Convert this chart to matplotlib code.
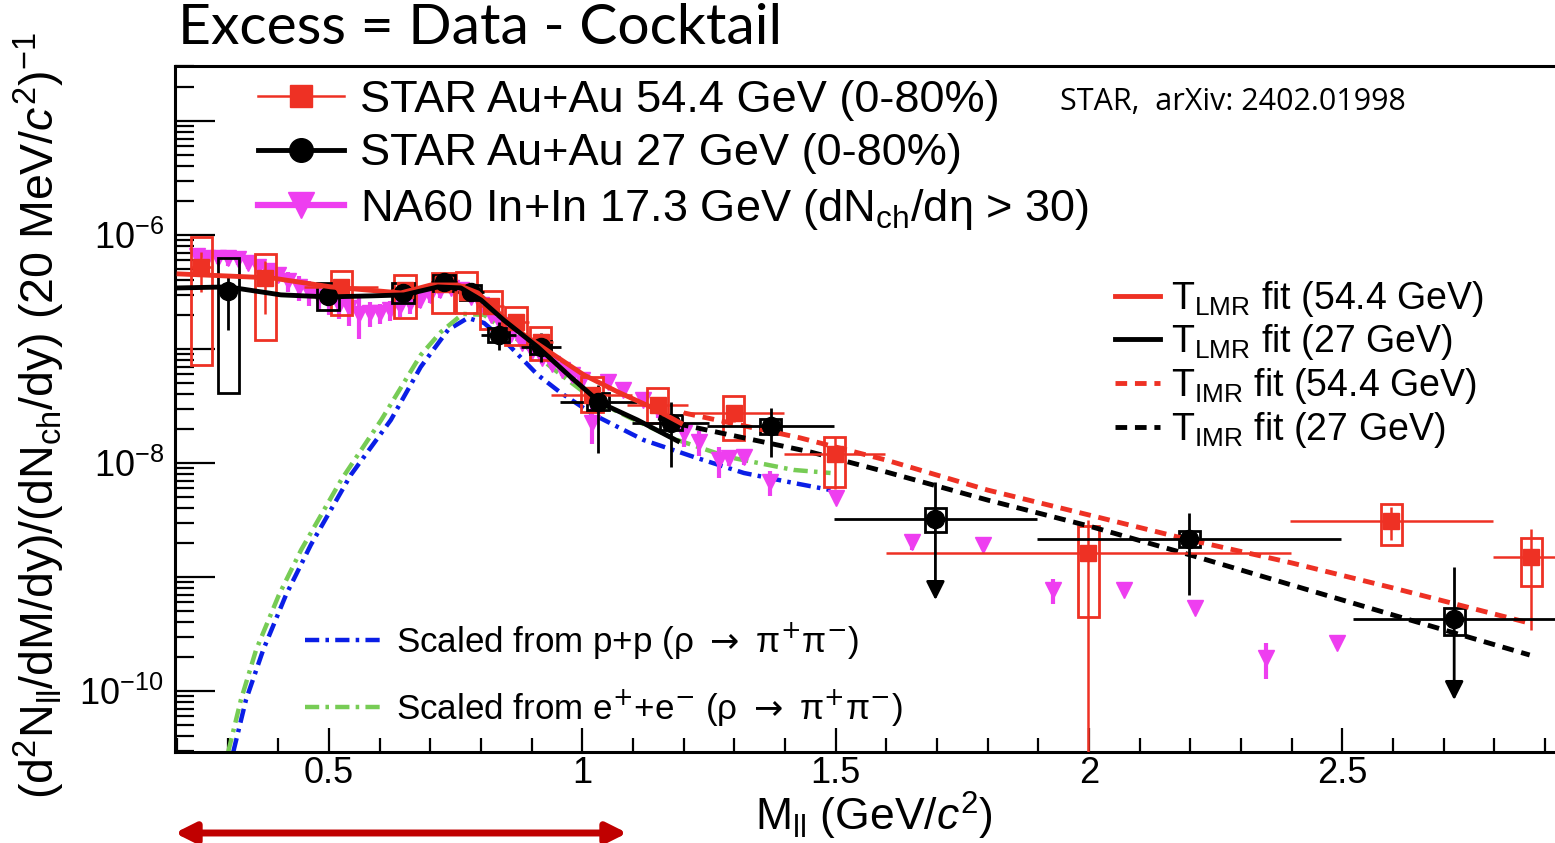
import numpy as np
import matplotlib
matplotlib.use("Agg")
import matplotlib.pyplot as plt
from matplotlib.lines import Line2D
from matplotlib.patches import Rectangle
from matplotlib.font_manager import FontProperties
from matplotlib.ticker import FixedLocator, FuncFormatter, MultipleLocator, NullFormatter

plt.rcParams['font.family'] = ['Liberation Sans', 'DejaVu Sans']
plt.rcParams['mathtext.fontset'] = 'custom'
plt.rcParams['mathtext.rm'] = 'Liberation Sans'
plt.rcParams['mathtext.it'] = 'Liberation Sans:italic'
plt.rcParams['mathtext.bf'] = 'Liberation Sans:bold'

RED = '#EE3124'
MAG = '#EE3EF0'
BLUE = '#0A1EE6'
GREEN = '#77CC55'

# ---------------- STAR Au+Au 54.4 GeV ----------------
star54_x = [0.248, 0.374, 0.524, 0.650, 0.725, 0.772, 0.820, 0.869, 0.918, 1.019, 1.149, 1.299, 1.498, 1.999, 2.597, 2.873]
star54_y = [5.24e-7, 4.20e-7, 3.50e-7, 3.30e-7, 3.70e-7, 3.16e-7, 2.40e-7, 1.73e-7, 1.15e-7, 3.95e-8, 3.20e-8, 2.75e-8, 1.20e-8, 1.62e-9, 3.10e-9, 1.50e-9]
star54_xerr = [0.02, 0.02, 0.073, 0.025, 0.025, 0.025, 0.025, 0.025, 0.025, 0.08, 0.06, 0.10, 0.10, 0.40, 0.20, 0.075]
star54_stat_hi = [7.1e-7, 5.92e-7, 4.03e-7, 3.8e-7, 4.2e-7, 3.6e-7, 2.7e-7, 1.95e-7, 1.3e-7, 4.5e-8, 3.8e-8, 3.2e-8, 1.7e-8, 3.16e-9, 4.11e-9, 2.64e-9]
star54_stat_lo = [3.16e-7, 2.03e-7, 2.98e-7, 2.8e-7, 3.2e-7, 2.8e-7, 2.1e-7, 1.5e-7, 1.0e-7, 3.4e-8, 2.7e-8, 2.3e-8, 5.9e-9, 1e-12, 2.11e-9, 3.43e-10]
star54_sys_hi = [9.59e-7, 6.81e-7, 4.83e-7, 4.46e-7, 4.64e-7, 4.73e-7, 3.23e-7, 2.33e-7, 1.56e-7, 5.68e-8, 4.55e-8, 3.87e-8, 1.69e-8, 2.80e-9, 4.36e-9, 2.20e-9]
star54_sys_lo = [7.24e-8, 1.20e-7, 1.99e-7, 1.87e-7, 2.07e-7, 2.07e-7, 1.50e-7, 1.08e-7, 8.02e-8, 2.80e-8, 2.24e-8, 1.59e-8, 6.15e-9, 4.46e-10, 1.91e-9, 8.34e-10]

# ---------------- STAR Au+Au 27 GeV ----------------
star27_x = [0.301, 0.498, 0.646, 0.727, 0.780, 0.835, 0.918, 1.031, 1.175, 1.372, 1.697, 2.198, 2.721]
star27_y = [3.23e-7, 2.92e-7, 3.10e-7, 3.87e-7, 3.16e-7, 1.33e-7, 1.04e-7, 3.43e-8, 2.24e-8, 2.11e-8, 3.23e-9, 2.15e-9, 4.28e-10]
star27_xerr = [0.02, 0.05, 0.025, 0.025, 0.025, 0.035, 0.04, 0.076, 0.076, 0.125, 0.20, 0.30, 0.20]
star27_stat_hi = [4.46e-7, 3.3e-7, 3.4e-7, 4.1e-7, 3.4e-7, 1.73e-7, 1.38e-7, 4.83e-8, 3.43e-8, 3.03e-8, 6.8e-9, 3.64e-9, 1.22e-9]
star27_stat_lo = [1.47e-7, 2.6e-7, 2.8e-7, 3.6e-7, 2.9e-7, 9.8e-8, 7.69e-8, 1.22e-8, 9.23e-9, 1.13e-8, 6.28e-10, 6.95e-10, 8.34e-11]
star27_sys_hi = [6.28e-7, 3.79e-7, 3.79e-7, 4.46e-7, 3.64e-7, 1.53e-7, 1.17e-7, 4.11e-8, 2.64e-8, 2.43e-8, 4.03e-9, 2.54e-9, 5.35e-10]
star27_sys_lo = [4.10e-8, 2.20e-7, 2.54e-7, 3.23e-7, 2.69e-7, 1.15e-7, 9.04e-8, 2.92e-8, 1.95e-8, 1.79e-8, 2.48e-9, 1.83e-9, 3.10e-10]
star27_upper_limit = [False, False, False, False, False, False, False, False, False, False, True, False, True]

# ---------------- NA60 In+In 17.3 GeV ----------------
na60_x = [0.24, 0.26, 0.28, 0.30, 0.32, 0.34, 0.36, 0.38, 0.40, 0.42,
          0.44, 0.46, 0.48, 0.50, 0.52, 0.54, 0.56, 0.58, 0.60, 0.62,
          0.64, 0.66, 0.68, 0.70, 0.72, 0.74, 0.76, 0.78, 0.80, 0.82,
          0.84, 0.86, 0.88, 0.90, 0.92, 0.94, 0.96, 0.98, 1.00,
          1.02, 1.05, 1.08, 1.12, 1.15, 1.20, 1.23, 1.27, 1.29, 1.32,
          1.37, 1.50, 1.65, 1.79, 1.93, 2.07, 2.21, 2.35, 2.49]
na60_y = [6.55e-7, 6.28e-7, 6.28e-7, 6.28e-7, 6.15e-7, 5.68e-7, 5.24e-7, 4.83e-7, 4.46e-7, 3.94e-7,
          3.50e-7, 3.16e-7, 2.86e-7, 2.64e-7, 2.43e-7, 2.29e-7, 2.03e-7, 2.07e-7, 2.07e-7, 2.20e-7,
          2.38e-7, 2.54e-7, 2.69e-7, 2.98e-7, 3.30e-7, 3.43e-7, 3.30e-7, 2.86e-7, 2.43e-7, 1.99e-7,
          1.63e-7, 1.36e-7, 1.13e-7, 9.6e-8, 8.34e-8, 7.38e-8, 6.55e-8, 5.92e-8, 5.35e-8,
          2.24e-8, 5.14e-8, 4.36e-8, 3.57e-8, 2.92e-8, 1.83e-8, 1.53e-8, 1.06e-8, 1.11e-8, 1.13e-8,
          6.8e-9, 4.93e-9, 2.03e-9, 1.91e-9, 7.69e-10, 7.69e-10, 5.35e-10, 1.95e-10, 2.64e-10]
na60_relerr = [0.15, 0.15, 0.12, 0.15, 0.12, 0.12, 0.12, 0.15, 0.15, 0.20,
               0.25, 0.25, 0.25, 0.25, 0.25, 0.30, 0.40, 0.25, 0.20, 0.20,
               0.20, 0.20, 0.15, 0.15, 0.15, 0.12, 0.12, 0.12, 0.12, 0.12,
               0.12, 0.12, 0.12, 0.12, 0.12, 0.12, 0.12, 0.12, 0.12,
               0.35, 0.12, 0.12, 0.12, 0.15, 0.25, 0.25, 0.30, 0.15, 0.15,
               0.25, 0.10, 0.15, 0.10, 0.25, 0.10, 0.10, 0.35, 0.10]

# ---------------- fits ----------------
lmr54_x = [0.204, 0.386, 0.504, 0.642, 0.701, 0.754, 0.794, 0.839, 0.885, 0.938, 1.003, 1.070, 1.135, 1.194]
lmr54_y = [4.55e-7, 4.20e-7, 3.50e-7, 3.10e-7, 3.64e-7, 3.64e-7, 3.10e-7, 1.99e-7, 1.33e-7, 9.23e-8, 5.92e-8, 4.20e-8, 3.10e-8, 2.24e-8]
lmr27_x = [0.204, 0.301, 0.405, 0.498, 0.583, 0.648, 0.715, 0.760, 0.800, 0.845, 0.912, 0.977, 1.036, 1.109, 1.188]
lmr27_y = [3.43e-7, 3.50e-7, 2.98e-7, 2.86e-7, 2.92e-7, 2.98e-7, 3.50e-7, 3.43e-7, 2.69e-7, 1.79e-7, 1.04e-7, 5.68e-8, 3.36e-8, 2.38e-8, 1.56e-8]
imr54_x = [1.20, 1.43, 1.60, 1.80, 2.00, 2.20, 2.40, 2.60, 2.87]
imr54_y = [2.75e-8, 1.66e-8, 1.06e-8, 5.79e-9, 3.50e-9, 2.11e-9, 1.33e-9, 8.02e-10, 3.94e-10]
imr27_x = [1.15, 1.20, 1.45, 1.60, 1.80, 2.00, 2.20, 2.40, 2.60, 2.87]
imr27_y = [2.48e-8, 2.15e-8, 1.25e-8, 8.34e-9, 4.73e-9, 2.80e-9, 1.56e-9, 8.51e-10, 4.65e-10, 2.07e-10]

# ---------------- scaled rho ----------------
pp_x = [0.311, 0.336, 0.370, 0.415, 0.464, 0.543, 0.622, 0.681, 0.735, 0.774, 0.806, 0.845, 0.912, 0.958, 1.023, 1.121, 1.220, 1.319, 1.417, 1.490]
pp_y = [2.92e-11, 8.34e-11, 2.29e-10, 6.95e-10, 1.91e-9, 7.85e-9, 2.38e-8, 6.95e-8, 1.47e-7, 1.87e-7, 1.69e-7, 1.20e-7, 5.92e-8, 4.11e-8, 2.64e-8, 1.59e-8, 1.13e-8, 8.17e-9, 6.68e-9, 5.79e-9]
ee_x = [0.301, 0.326, 0.356, 0.401, 0.445, 0.524, 0.603, 0.681, 0.721, 0.764, 0.806, 0.873, 0.938, 1.023, 1.090, 1.188, 1.287, 1.417, 1.490]
ee_y = [2.92e-11, 8.34e-11, 2.29e-10, 6.95e-10, 1.73e-9, 7.10e-9, 2.38e-8, 8.85e-8, 1.41e-7, 2.03e-7, 1.99e-7, 1.20e-7, 6.95e-8, 3.57e-8, 2.54e-8, 1.59e-8, 1.13e-8, 8.69e-9, 8.17e-9]

x_ticks = [0.5, 1, 1.5, 2, 2.5]
y_decades = [1e-10, 1e-9, 1e-8, 1e-7, 1e-6, 1e-5]
y_labels = [r'$10^{-10}$', '', r'$10^{-8}$', '', r'$10^{-6}$', '']

# ---------------- figure ----------------
W, H = 1555, 843
fig = plt.figure(figsize=(W / 100, H / 100), dpi=100)
ax = fig.add_axes([175 / W, 91 / H, 1380 / W, 686 / H])
ax.set_yscale('log')
ax.set_xlim(0.196, 2.92)
ax.set_ylim(2.92e-11, 3.03e-5)

DASHDOT = (0, (3.2, 1.4, 0.8, 1.4))
DASH = (0, (2.4, 1.6))

# scaled rho curves
ax.plot(pp_x, pp_y, color=BLUE, lw=3.2, ls=DASHDOT, zorder=2)
ax.plot(ee_x, ee_y, color=GREEN, lw=3.2, ls=DASHDOT, zorder=2)

# NA60
na60_x_a = np.array(na60_x)
na60_y_a = np.array(na60_y)
na60_e = na60_y_a * np.array(na60_relerr)
ax.errorbar(na60_x_a, na60_y_a, yerr=na60_e, fmt='v', color=MAG, ms=12, elinewidth=3,
            capsize=0, mec=MAG, zorder=3)

# systematic boxes
box_w = 0.042
for x, lo, hi in zip(star54_x, star54_sys_lo, star54_sys_hi):
    ax.add_patch(Rectangle((x - box_w / 2, lo), box_w, hi - lo, fill=False, ec=RED, lw=2, zorder=4))
for x, lo, hi in zip(star27_x, star27_sys_lo, star27_sys_hi):
    ax.add_patch(Rectangle((x - box_w / 2, lo), box_w, hi - lo, fill=False, ec='black', lw=2, zorder=4))

# STAR 54.4
s54x = np.array(star54_x)
s54y = np.array(star54_y)
ax.errorbar(s54x, s54y, xerr=star54_xerr,
            yerr=[s54y - np.array(star54_stat_lo), np.array(star54_stat_hi) - s54y],
            fmt='s', color=RED, ms=11, elinewidth=1.8, capsize=0, zorder=6)

# STAR 27
s27x = np.array(star27_x)
s27y = np.array(star27_y)
ul = np.array(star27_upper_limit)
ylo = np.where(ul, 0, s27y - np.array(star27_stat_lo))
ax.errorbar(s27x, s27y, xerr=star27_xerr,
            yerr=[ylo, np.array(star27_stat_hi) - s27y],
            fmt='o', color='black', ms=13, elinewidth=2, capsize=0, zorder=6)
for x, y, lo, flag in zip(star27_x, star27_y, star27_stat_lo, star27_upper_limit):
    if flag:
        ax.annotate('', xy=(x, lo), xytext=(x, y), xycoords='data',
                    arrowprops=dict(arrowstyle='-|>', color='black', lw=2,
                                    mutation_scale=28, shrinkA=0, shrinkB=0), zorder=6)

# fits
ax.plot(lmr54_x, lmr54_y, color=RED, lw=3.5, zorder=7)
ax.plot(lmr27_x, lmr27_y, color='black', lw=3.5, zorder=7)
ax.plot(imr54_x, imr54_y, color=RED, lw=3.5, ls=DASH, zorder=5)
ax.plot(imr27_x, imr27_y, color='black', lw=3.5, ls=DASH, zorder=5)

# axes styling
for s in ['left', 'bottom', 'top']:
    ax.spines[s].set_linewidth(2.2)
ax.spines['right'].set_visible(False)

ax.xaxis.set_major_locator(FixedLocator(x_ticks))
ax.xaxis.set_minor_locator(MultipleLocator(0.1))
ax.xaxis.set_major_formatter(FuncFormatter(lambda v, p: f'{v:g}'))
ax.set_yticks(y_decades)
ax.set_yticklabels(y_labels)
y_minor = [m * d for d in [1e-11] + y_decades for m in range(2, 10)]
ax.yaxis.set_minor_locator(FixedLocator([v for v in y_minor if 2.92e-11 < v < 3.03e-5]))
ax.yaxis.set_minor_formatter(NullFormatter())

ax.tick_params(axis='x', which='major', direction='in', length=17, width=1.6, labelsize=26, pad=3, top=False)
ax.tick_params(axis='x', which='minor', direction='in', length=10, width=1.6, top=False)
ax.tick_params(axis='y', which='major', direction='in', length=29, width=1.6, labelsize=26, pad=8, right=False)
ax.tick_params(axis='y', which='minor', direction='in', length=14, width=1.6, right=False)

ax.set_xlabel(r'M$_{\rm ll}$ (GeV/$c^{2}$)', fontsize=32, va='center')
ax.xaxis.set_label_coords((874 - 175) / 1380, (752 - 816) / 686)
ax.set_ylabel(r'(d$^{2}$N$_{\rm ll}$/dM/dy)/(dN$_{\rm ch}$/dy) (20 MeV/$c^{2}$)$^{-1}$', fontsize=33.5, va='center')
ax.yaxis.set_label_coords(-0.098, 0.49)

# legends
h1 = [Line2D([], [], color=RED, lw=1.8, marker='s', ms=16),
      Line2D([], [], color='black', lw=3.5, marker='o', ms=17),
      Line2D([], [], color=MAG, lw=4.5, marker='v', ms=19)]
l1 = ['STAR Au+Au 54.4 GeV (0-80%)', 'STAR Au+Au 27 GeV (0-80%)',
      r'NA60 In+In 17.3 GeV (dN$_{\rm ch}$/dη > 30)']
leg1 = ax.legend(h1, l1, loc='upper left', bbox_to_anchor=(0.06, 0.980), frameon=False, fontsize=32.5,
                 handlelength=1.9, handletextpad=0.37, labelspacing=0.28, borderpad=0, borderaxespad=0)
ax.add_artist(leg1)

h2 = [Line2D([], [], color=RED, lw=3.5), Line2D([], [], color='black', lw=3.5),
      Line2D([], [], color=RED, lw=3.5, ls=DASH),
      Line2D([], [], color='black', lw=3.5, ls=DASH)]
l2 = [r'T$_{\rm LMR}$ fit (54.4 GeV)', r'T$_{\rm LMR}$ fit (27 GeV)',
      r'T$_{\rm IMR}$ fit (54.4 GeV)', r'T$_{\rm IMR}$ fit (27 GeV)']
leg2 = ax.legend(h2, l2, loc='upper left', bbox_to_anchor=(0.681, 0.69), frameon=False, fontsize=27,
                 handlelength=1.2, handletextpad=0.3, labelspacing=0.1, borderpad=0, borderaxespad=0)
ax.add_artist(leg2)

h3 = [Line2D([], [], color=BLUE, lw=3.2, ls=DASHDOT),
      Line2D([], [], color=GREEN, lw=3.2, ls=DASHDOT)]
l3 = [r'Scaled from p+p (ρ $\rightarrow$ π$^{+}$π$^{-}$)',
      r'Scaled from e$^{+}$+e$^{-}$ (ρ $\rightarrow$ π$^{+}$π$^{-}$)']
leg3_prop = FontProperties(family=['Liberation Sans', 'DejaVu Sans'], size=25.2, math_fontfamily='dejavusans')
leg3 = ax.legend(h3, l3, loc='upper left', bbox_to_anchor=(0.094, 0.192), frameon=False, prop=leg3_prop,
                 handlelength=2.2, handletextpad=0.42, labelspacing=0.72, borderpad=0, borderaxespad=0)

# annotations
fig.text(178 / W, 1 - 28 / H, 'Excess = Data - Cocktail', fontsize=41, family='Lato', va='center', ha='left')
fig.text(1060 / W, 1 - 102 / H, 'STAR,  arXiv: 2402.01998', fontsize=22, family='Open Sans', va='center', ha='left')
fig.patches.append(matplotlib.patches.FancyArrowPatch((172 / W, 10 / H), (630 / W, 10 / H),
                                                      transform=fig.transFigure, arrowstyle='<|-|>',
                                                      mutation_scale=30, color='#C00000', lw=5))

fig.savefig('out.png', dpi=100)
